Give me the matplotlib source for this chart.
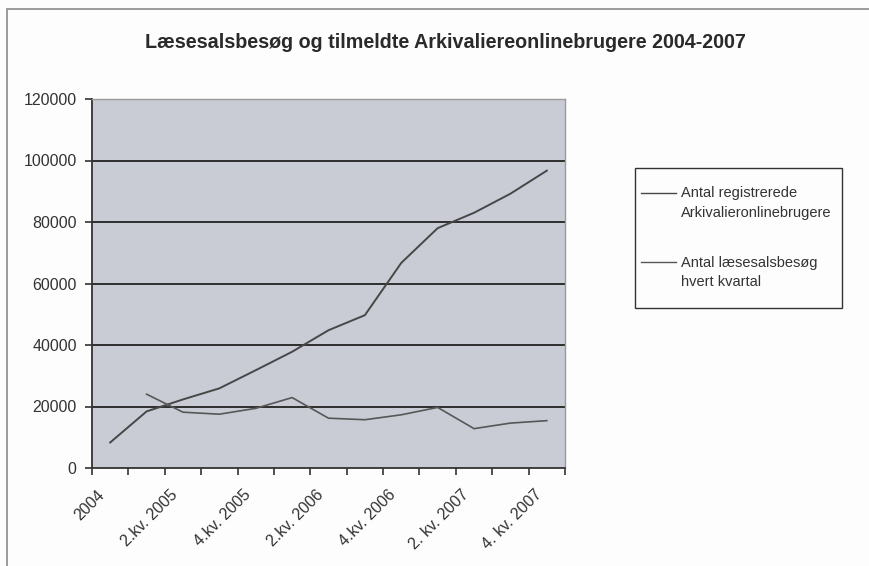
import matplotlib
matplotlib.use("Agg")
import matplotlib.pyplot as plt
from matplotlib.lines import Line2D
from matplotlib.patches import Rectangle
from matplotlib.transforms import ScaledTranslation
import numpy as np

plt.rcParams['font.family'] = ['Liberation Sans', 'DejaVu Sans']

quarters = ["2004", "1.kv. 2005", "2.kv. 2005", "3.kv. 2005", "4.kv. 2005",
            "1.kv. 2006", "2.kv. 2006", "3.kv. 2006", "4.kv. 2006",
            "1. kv. 2007", "2. kv. 2007", "3. kv. 2007", "4. kv. 2007"]
tick_labels = ["2004", "", "2.kv. 2005", "", "4.kv. 2005", "", "2.kv. 2006", "",
               "4.kv. 2006", "", "2. kv. 2007", "", "4. kv. 2007"]
registrerede = [8300, 18400, 22300, 25900, 31800, 37800, 44800, 49700,
                66700, 78000, 83000, 89200, 96700]
laesesal = [np.nan, 24000, 18150, 17500, 19400, 22900, 16200, 15700,
            17300, 19700, 12800, 14600, 15400]
yticks = [0, 20000, 40000, 60000, 80000, 100000, 120000]

W, H = 869, 566
fig = plt.figure(figsize=(W / 100, H / 100), dpi=100)
fig.patch.set_facecolor("#fdfdfd")

# frame
fig.patches.append(Rectangle((7 / W, -0.1), 1.2, (H - 9) / H + 0.1,
                             transform=fig.transFigure, fill=False,
                             edgecolor="#8a8a8a", linewidth=1.2))

ax = fig.add_axes([92 / W, 1 - 468 / H, (565 - 92) / W, (468 - 99) / H])
ax.set_facecolor("#c9ccd5")

x = np.arange(len(quarters)) + 0.5
for yv in yticks[1:-1]:
    ax.axhline(yv, color="#2e2e2e", linewidth=1.4, zorder=1)
ax.plot(x, registrerede, color="#474747", linewidth=1.4, zorder=3)
ax.plot(x, laesesal, color="#575757", linewidth=1.2, zorder=3)

ax.set_xlim(0, len(quarters))
ax.set_ylim(0, 120000)
ax.set_yticks(yticks)
ax.set_yticklabels([str(v) for v in yticks], fontsize=11.5, color="#333333")
ax.set_xticks(np.arange(len(quarters) + 1))
ax.set_xticklabels([])
ax.set_xticks(x, minor=True)
ax.set_xticklabels(tick_labels, minor=True, rotation=45, ha="right",
                   rotation_mode="anchor", fontsize=11.5, color="#333333")
ax.tick_params(axis="x", which="minor", length=0, pad=0)
ax.tick_params(axis="x", which="major", length=5, direction="out", color="#333333", width=1.2)
ax.tick_params(axis="y", length=5, direction="out", color="#333333", width=1.2, pad=6)
off = ScaledTranslation(-13 / 100, -19 / 100, fig.dpi_scale_trans)
for lab in ax.get_xticklabels(minor=True):
    lab.set_transform(lab.get_transform() + off)
for s in ["left", "bottom"]:
    ax.spines[s].set_color("#333333")
    ax.spines[s].set_linewidth(1.3)
for s in ["top", "right"]:
    ax.spines[s].set_color("#9a9a9a")
    ax.spines[s].set_linewidth(1.0)

fig.text(445 / W, 1 - 43 / H,
         "Læsesalsbesøg og tilmeldte Arkivaliereonlinebrugere 2004-2007",
         ha="center", va="center", fontsize=14.2, fontweight="bold", color="#2a2a2a")

# legend
fig.patches.append(Rectangle((635 / W, 1 - 308 / H), (842 - 635) / W, (308 - 168) / H,
                             transform=fig.transFigure, fill=False,
                             edgecolor="#333333", linewidth=1.0))
legend_entries = [(["Antal registrerede", "Arkivalieronlinebrugere"], 192.5, 197.5, "#474747"),
                  (["Antal læsesalsbesøg", "hvert kvartal"], 262, 267.5, "#575757")]
for lines, ly, by, col in legend_entries:
    fig.lines.append(Line2D([641 / W, 676 / W], [1 - ly / H, 1 - ly / H],
                            transform=fig.transFigure, color=col, linewidth=1.0))
    for i, t in enumerate(lines):
        fig.text(681 / W, 1 - (by + 19 * i) / H, t, ha="left", va="baseline",
                 fontsize=10.5, color="#333333")

fig.savefig("out.png", dpi=100, facecolor=fig.get_facecolor())
